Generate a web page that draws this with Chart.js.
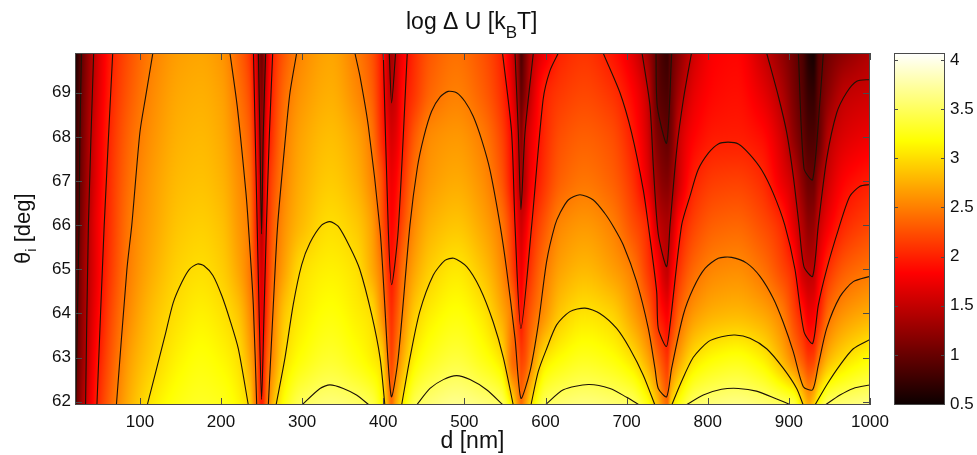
<!DOCTYPE html>
<html>
<head>
<meta charset="utf-8">
<title>log dU map</title>
<script src="https://cdn.jsdelivr.net/npm/chart.js@4"></script>
<style>
  body { margin: 0; background: #fff; }
  #wrap { position: relative; width: 977px; height: 455px; }
  #mapChart { position: absolute; left: 0; top: 0; }
  #barChart { position: absolute; left: 880px; top: 0; }
</style>
</head>
<body>
<div id="wrap">
  <canvas id="mapChart" width="977" height="455"></canvas>
  <canvas id="barChart" width="97" height="455"></canvas>
</div>
<script>
// 1. Values

// d [nm] of each column in the colour map, denser around the dips
const columns = [20,30,45,65,90,120,150,175,200,220,235,243,250,257,265,280,300,335,365,385,398,405,410,415,423,440,460,490,520,545,560,567,570,574,582,600,620,648,680,705,725,738,745,750,755,765,785,810,835,865,890,905,917,925,930,937,950,970,1000];
// theta_i [deg] of each row
const thetas = [61.92,63,64,65,66,67,68,69,69.9];

// log dU per row, bottom to top
const row62 = [0.95,1.4,1.95,2.4,2.8,3.1,3.25,3.3,3.27,3.15,2.95,2.45,2.0,2.45,2.85,3.25,3.5,3.6,3.55,3.45,3.15,2.75,2.42,2.7,3.05,3.48,3.6,3.68,3.62,3.52,3.0,2.55,2.42,2.6,3.0,3.5,3.58,3.62,3.58,3.53,3.25,2.85,2.55,2.42,2.95,3.25,3.55,3.62,3.65,3.6,3.52,3.46,3.0,2.75,2.9,3.25,3.55,3.6,3.65];
const row63 = [0.9,1.3,1.85,2.3,2.7,2.95,3.13,3.2,3.14,3.02,2.72,2.42,1.9,2.32,2.6,3.02,3.2,3.33,3.22,3.1,2.95,2.52,2.2,2.38,2.7,3.12,3.28,3.38,3.25,3.03,2.38,2.3,2.17,2.22,2.5,3.03,3.18,3.27,3.2,3.03,2.72,2.38,2.2,2.1,2.38,2.68,3.03,3.17,3.22,3.1,2.8,2.52,2.28,2.12,2.15,2.45,2.8,3.0,3.17];
const row64 = [0.85,1.27,1.75,2.22,2.6,2.87,3.03,3.1,3.03,2.88,2.58,2.25,1.73,2.15,2.52,2.9,3.08,3.2,3.1,3.0,2.6,2.3,2.08,2.22,2.5,2.92,3.1,3.2,3.07,2.75,2.42,2.05,1.93,2.08,2.3,2.62,2.9,3.03,2.95,2.7,2.4,2.02,1.88,1.8,2.0,2.35,2.65,2.77,2.8,2.72,2.52,2.22,1.95,1.75,1.78,2.0,2.42,2.62,2.75];
const row65 = [0.8,1.25,1.7,2.15,2.53,2.78,2.95,3.0,2.92,2.72,2.47,2.12,1.62,2.05,2.4,2.72,3.0,3.1,3.02,2.75,2.45,2.12,1.95,2.07,2.38,2.72,2.93,3.05,2.88,2.58,2.15,1.85,1.75,1.88,2.12,2.47,2.7,2.8,2.68,2.5,2.15,1.85,1.58,1.5,1.72,2.1,2.4,2.54,2.57,2.45,2.22,2.02,1.55,1.45,1.47,1.75,2.1,2.32,2.45];
const row66 = [0.75,1.2,1.7,2.12,2.5,2.72,2.88,2.92,2.85,2.65,2.47,2.03,1.47,2.02,2.33,2.62,2.82,3.0,2.9,2.68,2.3,2.02,1.85,1.93,2.2,2.58,2.78,2.87,2.72,2.47,2.05,1.68,1.57,1.68,1.98,2.3,2.55,2.63,2.52,2.27,2.03,1.55,1.42,1.38,1.5,1.9,2.2,2.34,2.37,2.25,2.05,1.7,1.4,1.22,1.25,1.53,1.8,2.05,2.2];
const row67 = [0.7,1.15,1.65,2.1,2.45,2.68,2.82,2.85,2.78,2.6,2.42,2.0,1.38,1.98,2.25,2.55,2.75,2.9,2.78,2.55,2.25,1.92,1.75,1.82,2.05,2.47,2.65,2.73,2.6,2.3,1.85,1.5,1.38,1.45,1.78,2.12,2.35,2.45,2.35,2.12,1.72,1.3,1.18,1.15,1.25,1.6,2.02,2.15,2.17,2.07,1.75,1.53,1.18,1.02,1.02,1.28,1.6,1.85,1.98];
const row68 = [0.67,1.12,1.62,2.07,2.4,2.63,2.77,2.8,2.73,2.53,2.33,1.9,1.28,1.85,2.15,2.5,2.7,2.83,2.7,2.47,2.05,1.8,1.62,1.68,1.92,2.33,2.57,2.63,2.5,2.2,1.8,1.45,1.2,1.45,1.7,2.05,2.25,2.33,2.25,2.0,1.62,1.12,1.02,0.98,1.1,1.55,1.85,1.97,1.98,1.9,1.6,1.25,1.0,0.85,0.85,1.0,1.45,1.65,1.75];
const row69 = [0.62,1.08,1.55,2.02,2.33,2.58,2.72,2.75,2.68,2.45,2.22,1.75,1.15,1.7,2.08,2.42,2.62,2.75,2.57,2.35,1.97,1.62,1.47,1.55,1.85,2.13,2.38,2.5,2.35,2.08,1.65,1.25,1.0,1.15,1.53,2.0,2.13,2.2,2.1,1.87,1.53,0.98,0.88,0.85,1.03,1.35,1.72,1.87,1.9,1.72,1.42,1.12,0.9,0.72,0.7,0.95,1.22,1.48,1.56];
const row70 = [0.55,1.03,1.52,1.98,2.28,2.53,2.67,2.7,2.62,2.38,2.12,1.65,1.05,1.6,2.02,2.32,2.55,2.7,2.5,2.28,1.95,1.6,1.33,1.5,1.75,2.08,2.3,2.42,2.28,2.02,1.55,1.15,0.85,1.05,1.42,1.75,2.02,2.1,1.95,1.7,1.33,0.95,0.8,0.75,0.98,1.2,1.6,1.82,1.85,1.57,1.25,1.05,0.85,0.6,0.55,0.9,1.07,1.22,1.4];
const grid = [row62,row63,row64,row65,row66,row67,row68,row69,row70];

// contour lines as [d, theta] pairs
const level1Left = [[21,61.92],[23,64],[25,66],[26,68],[28,69.9]];
const level1Dip750 = [[736.2,69.9],[737.8,68.69],[749.3,67.86],[755.5,69.9]];
const level1Dip925 = [[911.7,69.9],[918.6,67.29],[929.3,67.03],[938.4,68.84],[942.5,69.9]];

const level15Left = [[33,61.92],[36.5,66],[43,69.9]];
const level15Dip250 = [[246,69.9],[248,68],[250,65.8],[252,68],[255,69.9]];
const level15Dip410 = [[407.4,69.9],[410.3,68.77],[415.2,69.9]];
const level15Dip570 = [[562.4,69.9],[566.5,68.1],[569.7,66.35],[574.7,68.1],[585,69.9]];
const level15Dip750 = [[719,69.9],[728.8,68.7],[733,67.3],[739,65.8],[749.3,65.06],[753.5,66],[761.7,67.7],[769.9,68.84],[780,69.9]];
const level15Dip925 = [[872.6,69.9],[887,68.92],[897.3,68.1],[905.5,67.1],[912.5,66],[918.6,65.06],[929.3,64.84],[936.3,66],[946.6,67.5],[958.9,68.54],[971,69],[983.6,69.26],[1000,69.3]];

const level2Left = [[47,61.92],[56,66],[66.5,69.9]];
const level2Dip250 = [[240,69.9],[242,68.2],[244,66.5],[247,64],[250,62.05],[253,64],[256,66],[259.5,68],[263.7,69.9]];
const level2Dip410 = [[400,69.9],[406.2,65.9],[410.3,64.65],[418.5,65.9],[429.6,69.9]];
const level2Dip570 = [[547,69.9],[558.2,68.1],[562.4,66],[569.7,63.66],[583,66],[597,68.84],[605.5,69.5],[615.8,69.9]];
const level2Right = [[671,69.9],[691.8,69],[706,68.1],[720.5,66.8],[726.7,66],[737,64.5],[739,63.66],[749,63.25],[753.5,63.74],[767.8,66],[778,66.65],[788,67.25],[800.7,67.63],[813,67.84],[825,67.88],[837.7,67.84],[852,67.6],[866.5,67.25],[880.8,66.72],[895,66],[907.5,65],[918.6,63.59],[929.3,63.32],[936.3,64.19],[946.6,65],[961,65.9],[975,66.65],[987.7,66.88],[1000,66.92]];

const level25Left = [[71,61.92],[84,65],[90,66],[100,68.1],[107,68.9],[116,69.9]];
const level25Dip250a = [[211,69.9],[220,68.69],[230.8,66.72],[233.7,66],[239.8,64.2],[244,61.92]];
const level25Dip250b = [[258.3,61.92],[264.5,64.2],[269.8,66],[280,68.1],[285,69],[293.3,69.9]];
const level25Right = [[365,69.9],[371.3,69.37],[381.6,68.24],[396,65.9],[400.9,64.5],[406.2,62.83],[410.3,62.11],[418.5,63],[432.9,66],[442,67.3],[450,68],[459.6,68.58],[469.9,68.9],[480,69.03],[490.4,69],[500.7,68.8],[511,68.46],[521.3,67.93],[531.5,67.25],[544,66],[552,65],[562.4,63.44],[569.7,62.08],[580.8,62.68],[591,63.74],[601.4,65.18],[611.7,66],[617.8,66.27],[628,66.57],[642.5,66.69],[658.9,66.57],[673,66.27],[683.6,65.97],[695.9,65.55],[712.3,64.72],[726.7,63.66],[735,62.75],[739,62.3],[749.3,62.11],[755.5,62.76],[769.9,63.97],[782.2,64.57],[796.6,65.02],[813,65.25],[829.5,65.27],[848,65.14],[864.4,64.84],[880.8,64.34],[893,63.8],[905.5,63.13],[917.8,62.34],[929.3,62.27],[936.3,62.83],[946.6,63.66],[963,64.38],[979.4,64.72],[1000,64.84]];

const level3Arch1 = [[109,61.92],[131,63.5],[141,64.24],[151.5,64.7],[161,65],[171,65.12],[179,65.08],[190,64.86],[201,64.4],[211,63.85],[221.3,63.2],[233.7,61.92]];
const level3Arch2 = [[267.8,61.92],[278.9,63],[289,64.2],[299.4,65.1],[309.7,65.6],[324,66],[334.3,66.08],[344.6,65.97],[359,65.5],[371,65],[385.7,63.97],[396,63],[402,61.92]];
const level3Arch3 = [[422.6,61.92],[433,63],[445,64.04],[461.7,64.87],[476,65.2],[487,65.25],[502.8,65.06],[519.2,64.57],[535.6,63.8],[548,63],[560.3,61.92]];
const level3Arch4 = [[582,61.92],[591,62.68],[601.4,63.2],[613.7,63.74],[630,64.04],[648.6,64.12],[667,64],[687.7,63.66],[704,63.2],[720.5,62.6],[735,61.92]];
const level3Arch5 = [[755.5,61.92],[765.8,62.38],[782,63],[800.7,63.36],[817,63.47],[833.6,63.51],[852,63.44],[872.6,63.2],[893,62.76],[909.6,62.3],[917.8,61.92]];
const level3Arch6 = [[932,61.92],[946.6,62.38],[963,62.83],[979.4,63.2],[1000,63.41]];

const level35Arch2 = [[299.4,61.92],[322,62.3],[334.3,62.38],[350.7,62.3],[367,62.15],[382.8,61.92]];
const level35Arch3 = [[441,61.92],[457.6,62.3],[474,62.5],[490.4,62.59],[506.9,62.5],[527.4,62.27],[548,61.92]];
const level35Arch4 = [[599.3,61.92],[622,62.27],[652.8,62.39],[679.5,62.3],[700,62.1],[716.4,61.92]];
const level35Arch5 = [[773,61.92],[794.5,62.15],[817,62.28],[837.7,62.3],[860,62.24],[885,62.06],[903.4,61.92]];
const level35Arch6 = [[944.5,61.92],[963,62.15],[979.4,62.3],[1000,62.38]];

const contours = [
  level1Left, level1Dip750, level1Dip925,
  level15Left, level15Dip250, level15Dip410, level15Dip570, level15Dip750, level15Dip925,
  level2Left, level2Dip250, level2Dip410, level2Dip570, level2Right,
  level25Left, level25Dip250a, level25Dip250b, level25Right,
  level3Arch1, level3Arch2, level3Arch3, level3Arch4, level3Arch5, level3Arch6,
  level35Arch2, level35Arch3, level35Arch4, level35Arch5, level35Arch6
];

// tick labels
const xTicks = [100,200,300,400,500,600,700,800,900,1000];
const yTicks = [62,63,64,65,66,67,68,69];
const barTicks = [0.5,1,1.5,2,2.5,3,3.5,4];

const valueMin = 0.49;
const valueMax = 4.07;
const labelFont = "Liberation Sans";
const boxColor = "#4a4a4a";

// 2. Colour scale (black, red, yellow, white)
function hot(v) {
  const t = Math.min(1, Math.max(0, (v - valueMin) / (valueMax - valueMin)));
  const clamp = (n) => Math.min(1, Math.max(0, n));
  return [
    Math.round(255 * clamp(0.0417 + (t / 0.375) * 0.9583)),
    Math.round(255 * clamp((t - 0.375) / 0.375)),
    Math.round(255 * clamp((t - 0.75) / 0.25)),
  ];
}

// monotone slopes for smooth shading between the grid values
function slopes(xs, ys) {
  const m = new Array(xs.length).fill(0);
  const d = [];
  for (let i = 0; i < xs.length - 1; i++) d.push((ys[i + 1] - ys[i]) / (xs[i + 1] - xs[i]));
  m[0] = d[0];
  m[xs.length - 1] = d[d.length - 1];
  for (let i = 1; i < xs.length - 1; i++) {
    if (d[i - 1] * d[i] > 0) m[i] = (2 * d[i - 1] * d[i]) / (d[i - 1] + d[i]);
  }
  return m;
}

function shade(xs, ys, ms, v) {
  let i = 0;
  while (i < xs.length - 2 && xs[i + 1] < v) i++;
  const h = xs[i + 1] - xs[i];
  const t = Math.min(1, Math.max(0, (v - xs[i]) / h));
  const t2 = t * t;
  const t3 = t2 * t;
  return (2 * t3 - 3 * t2 + 1) * ys[i] + (t3 - 2 * t2 + t) * h * ms[i] +
    (-2 * t3 + 3 * t2) * ys[i + 1] + (t3 - t2) * h * ms[i + 1];
}

// colour map, every pixel looked up through the chart scales
const heatmapPlugin = {
  id: "heatmap",
  beforeDatasetsDraw(chart) {
    const { ctx, chartArea, scales } = chart;
    const w = Math.round(chartArea.right - chartArea.left);
    const h = Math.round(chartArea.bottom - chartArea.top);
    const img = ctx.createImageData(w, h);
    const rowSlopes = grid.map((row) => slopes(columns, row));
    for (let px = 0; px < w; px++) {
      const d = scales.x.getValueForPixel(chartArea.left + px + 0.5);
      const across = grid.map((row, r) => shade(columns, row, rowSlopes[r], d));
      const acrossSlopes = slopes(thetas, across);
      for (let py = 0; py < h; py++) {
        const theta = scales.y.getValueForPixel(chartArea.top + py + 0.5);
        const rgb = hot(shade(thetas, across, acrossSlopes, theta));
        const k = (py * w + px) * 4;
        img.data[k] = rgb[0];
        img.data[k + 1] = rgb[1];
        img.data[k + 2] = rgb[2];
        img.data[k + 3] = 255;
      }
    }
    ctx.putImageData(img, Math.round(chartArea.left), Math.round(chartArea.top));
  },
};

// frame with inward ticks on all four sides
function drawBox(chart, scaleY, len, scaleX) {
  const { ctx, chartArea: a } = chart;
  ctx.save();
  ctx.strokeStyle = boxColor;
  ctx.lineWidth = 1;
  ctx.strokeRect(a.left + 0.5, a.top + 0.5, a.right - a.left - 1, a.bottom - a.top - 1);
  ctx.beginPath();
  scaleY.ticks.forEach((t) => {
    const p = Math.round(scaleY.getPixelForValue(t.value)) + 0.5;
    ctx.moveTo(a.left, p);
    ctx.lineTo(a.left + len, p);
    ctx.moveTo(a.right, p);
    ctx.lineTo(a.right - len, p);
  });
  if (scaleX) {
    scaleX.ticks.forEach((t) => {
      const p = Math.round(scaleX.getPixelForValue(t.value)) + 0.5;
      ctx.moveTo(p, a.bottom);
      ctx.lineTo(p, a.bottom - len);
      ctx.moveTo(p, a.top);
      ctx.lineTo(p, a.top + len);
    });
  }
  ctx.stroke();
  ctx.restore();
}

// titles with subscripts, the title plugin cannot do those
const labelsPlugin = {
  id: "labels",
  afterDatasetsDraw(chart) {
    drawBox(chart, chart.scales.y, 7, chart.scales.x);
    const { ctx } = chart;
    ctx.save();
    ctx.fillStyle = "#111";
    ctx.textAlign = "left";
    ctx.textBaseline = "alphabetic";

    let x = 406;
    ctx.font = "23px " + labelFont;
    ctx.fillText("log Δ U [k", x, 29);
    x += ctx.measureText("log Δ U [k").width;
    ctx.font = "17px " + labelFont;
    ctx.fillText("B", x, 38);
    x += ctx.measureText("B").width;
    ctx.font = "23px " + labelFont;
    ctx.fillText("T]", x, 29);

    ctx.translate(30, 264);
    ctx.rotate(-Math.PI / 2);
    ctx.font = "22px " + labelFont;
    ctx.fillText("θ", 0, 0);
    x = ctx.measureText("θ").width;
    ctx.font = "15px " + labelFont;
    ctx.fillText("i", x, 6);
    x += ctx.measureText("i").width;
    ctx.font = "22px " + labelFont;
    ctx.fillText(" [deg]", x, 0);
    ctx.restore();
  },
};

// 3. Map with contour lines
const mapCtx = document.getElementById("mapChart").getContext("2d");
const mapChart = new Chart(mapCtx, {
  type: "scatter",
  data: {
    datasets: contours.map((line) => ({
      data: line.map((p) => ({ x: p[0], y: p[1] })),
      showLine: true,
      tension: 0.25,
      borderColor: "#1c1206",
      borderWidth: 1.1,
      pointRadius: 0,
    })),
  },
  options: {
    responsive: false,
    animation: false,
    layout: { padding: { top: 53, right: 107, left: 0, bottom: 0 } },
    plugins: { legend: { display: false }, tooltip: { enabled: false } },
    scales: {
      x: {
        type: "linear",
        min: 20,
        max: 1000,
        grid: { display: false, drawTicks: false },
        border: { display: false },
        afterBuildTicks: (s) => { s.ticks = xTicks.map((v) => ({ value: v })); },
        afterFit: (s) => { s.height = 50; },
        ticks: {
          autoSkip: false,
          maxRotation: 0,
          padding: 7,
          color: "#111",
          font: { family: labelFont, size: 17 },
          callback: (v) => String(v),
        },
        title: {
          display: true,
          text: "d [nm]",
          color: "#111",
          font: { family: labelFont, size: 23 },
          padding: { top: 0, bottom: 0 },
        },
      },
      y: {
        type: "linear",
        min: 61.925,
        max: 69.9,
        grid: { display: false, drawTicks: false },
        border: { display: false },
        afterBuildTicks: (s) => { s.ticks = yTicks.map((v) => ({ value: v })); },
        afterFit: (s) => { s.width = 75; },
        ticks: {
          autoSkip: false,
          padding: 4,
          color: "#111",
          font: { family: labelFont, size: 17 },
          callback: (v) => String(v),
        },
      },
    },
  },
  plugins: [heatmapPlugin, labelsPlugin],
});

// 4. Colour bar
const barCtx = document.getElementById("barChart").getContext("2d");
const barChart = new Chart(barCtx, {
  type: "bar",
  data: {
    labels: [""],
    datasets: [
      {
        data: [[valueMin, valueMax]],
        barPercentage: 1,
        categoryPercentage: 1,
        borderWidth: 0,
        backgroundColor: (c) => {
          const { chartArea } = c.chart;
          if (!chartArea) return "#000";
          const g = c.chart.ctx.createLinearGradient(0, chartArea.bottom, 0, chartArea.top);
          for (let i = 0; i <= 64; i++) {
            const rgb = hot(valueMin + ((valueMax - valueMin) * i) / 64);
            g.addColorStop(i / 64, "rgb(" + rgb.join(",") + ")");
          }
          return g;
        },
      },
    ],
  },
  options: {
    responsive: false,
    animation: false,
    layout: { padding: { top: 53, left: 14, right: 0, bottom: 50 } },
    plugins: { legend: { display: false }, tooltip: { enabled: false } },
    scales: {
      x: { display: false },
      y: {
        position: "right",
        min: valueMin,
        max: valueMax,
        grid: { display: false, drawTicks: false },
        border: { display: false },
        afterBuildTicks: (s) => { s.ticks = barTicks.map((v) => ({ value: v })); },
        afterFit: (s) => { s.width = 32; },
        ticks: {
          autoSkip: false,
          padding: 5,
          color: "#111",
          font: { family: labelFont, size: 17 },
          callback: (v) => String(v),
        },
      },
    },
  },
  plugins: [
    {
      id: "barFrame",
      afterDatasetsDraw(chart) {
        drawBox(chart, chart.scales.y, 4);
      },
    },
  ],
});
</script>
</body>
</html>
